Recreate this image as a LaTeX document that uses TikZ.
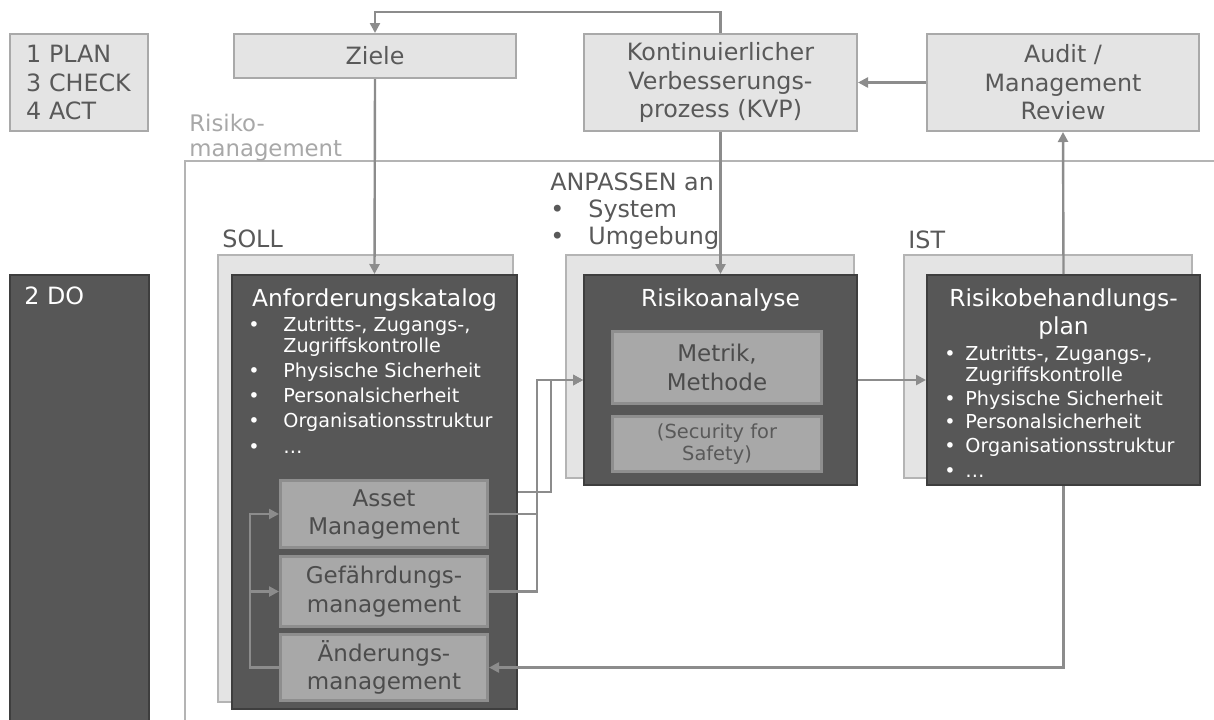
\documentclass[tikz,border=0pt]{standalone}
\usepackage{fontspec}
\setmainfont{DejaVu Sans}
\usetikzlibrary{arrows.meta,positioning}

\definecolor{hellgrau}{HTML}{E4E4E4}
\definecolor{randgrau}{HTML}{A9A9A9}
\definecolor{dunkelgrau}{HTML}{575757}
\definecolor{dunkelrand}{HTML}{3E3E3E}
\definecolor{mittelgrau}{HTML}{A8A8A8}
\definecolor{mittelrand}{HTML}{8E8E8E}
\definecolor{textgrau}{HTML}{595959}
\definecolor{liniengrau}{HTML}{8C8C8C}
\definecolor{rahmengrau}{HTML}{B4B4B4}

\newcommand{\grosstext}{\fontsize{11.9}{14.3}\selectfont}
\newcommand{\titeltext}{\fontsize{11.7}{14}\selectfont}
\newcommand{\listentext}{\fontsize{9.6}{10.6}\selectfont}
\newcommand{\punkt}[1]{\makebox[#1][l]{\textbullet}}

\begin{document}
\begin{tikzpicture}[x=0.5pt, y=-0.5pt,
	hellbox/.style={draw=randgrau, fill=hellgrau, line width=1pt, inner sep=0pt,
		anchor=north west, text=textgrau, align=center, font=\grosstext},
	hinterbox/.style={draw=rahmengrau, fill=hellgrau, line width=1pt, inner sep=0pt,
		anchor=north west},
	dunkelbox/.style={draw=dunkelrand, fill=dunkelgrau, line width=1pt, inner sep=0pt,
		anchor=north west},
	mittelbox/.style={draw=mittelrand, fill=mittelgrau, line width=1.5pt, inner sep=0pt,
		anchor=north west, text=textgrau!85!black, align=center},
	titel/.style={text=white, font=\titeltext, align=center, inner sep=0pt, anchor=north},
	liste/.style={text=white, font=\listentext, align=left, inner sep=0pt, anchor=north west},
	beschriftung/.style={text=textgrau, font=\grosstext, align=left, inner sep=0pt, anchor=west},
	verbinder/.style={draw=liniengrau, line width=1.2pt},
	pfeil/.style={verbinder, -{Triangle[length=5pt,width=5pt]}}]

	\useasboundingbox (0,0) rectangle (1214,719);
	\clip (0,0) rectangle (1214,719);
	\fill[white] (0,0) rectangle (1214,719);

	% obere Reihe
	\node[hellbox, text width=53pt, inner xsep=8pt, minimum height=48.5pt, align=left]
		(pdca) at (9,33) {1 PLAN\\3 CHECK\\4 ACT};
	\node[hellbox, minimum width=141pt, minimum height=22pt] (ziele) at (233,33) {Ziele};
	\node[hellbox, minimum width=136.5pt, minimum height=48.5pt] (kvp) at (583,33)
		{Kontinuierlicher\\Verbesserungs-\\prozess (KVP)};
	\node[hellbox, minimum width=136pt, minimum height=48.5pt] (audit) at (926,33)
		{Audit /\\Management\\Review};

	% Rahmen Risikomanagement
	\draw[draw=rahmengrau, line width=1pt] (185,725) -- (185,161) -- (1220,161);
	\node[beschriftung, text=mittelgrau, font=\fontsize{11.4}{12.5}\selectfont]
		(rm) at (189,137.5) {Risiko-\\management};

	% Beschriftungen
	\node[beschriftung, font=\fontsize{11.9}{13.5}\selectfont] (anpassen) at (550,211)
		{ANPASSEN an\\\punkt{19pt}System\\\punkt{19pt}Umgebung};
	\node[beschriftung] (soll) at (222,239) {SOLL};
	\node[beschriftung] (ist) at (908,240) {IST};

	% Hintergrundkaesten
	\node[hinterbox, minimum width=147.5pt, minimum height=223.5pt] (sollbox) at (217,254) {};
	\node[hinterbox, minimum width=144pt, minimum height=111.5pt] (rabox) at (565,254) {};
	\node[hinterbox, minimum width=144pt, minimum height=111.5pt] (istbox) at (903,254) {};

	% DO
	\node[dunkelbox, minimum width=69.5pt, minimum height=226pt] (do) at (9,274) {};
	\node[beschriftung, text=white] (dotext) at (24,296) {2 DO};

	% Anforderungskatalog
	\node[dunkelbox, minimum width=142.5pt, minimum height=217pt] (anf) at (231,274) {};
	\node[titel] (anftitel) at ([yshift=-7pt]anf.north) {Anforderungskatalog};
	\node[liste] (anfliste) at (248,316) {%
		\punkt{17.5pt}Zutritts-, Zugangs-,\\
		\hspace*{17.5pt}Zugriffskontrolle\\[2pt]
		\punkt{17.5pt}Physische Sicherheit\\[2pt]
		\punkt{17.5pt}Personalsicherheit\\[2pt]
		\punkt{17.5pt}Organisationsstruktur\\[2pt]
		\punkt{17.5pt}\ldots};
	\node[mittelbox, minimum width=103.5pt, minimum height=33.5pt,
		font=\fontsize{11.5}{14}\selectfont] (asset) at (279,479) {Asset\\Management};
	\node[mittelbox, minimum width=103.5pt, minimum height=35pt,
		font=\fontsize{11.5}{14.5}\selectfont] (gef) at (279,555) {Gefährdungs-\\management};
	\node[mittelbox, minimum width=103.5pt, minimum height=33pt,
		font=\fontsize{11.5}{14}\selectfont] (aend) at (279,633) {Änderungs-\\management};

	% Risikoanalyse
	\node[dunkelbox, minimum width=136.5pt, minimum height=105pt] (ra) at (583,274) {};
	\node[titel] (ratitel) at ([yshift=-7pt]ra.north) {Risikoanalyse};
	\node[mittelbox, minimum width=104.5pt, minimum height=36pt,
		font=\fontsize{11.5}{14.5}\selectfont] (metrik) at (611,330) {Metrik,\\Methode};
	\node[mittelbox, minimum width=104.5pt, minimum height=27.5pt, text=textgrau,
		font=\fontsize{9.7}{11}\selectfont] (sec) at (611,415) {(Security for\\Safety)};

	% Risikobehandlungsplan
	\node[dunkelbox, minimum width=136.5pt, minimum height=105pt] (rb) at (926,274) {};
	\node[titel] (rbtitel) at ([yshift=-7pt]rb.north) {Risikobehandlungs-\\plan};
	\node[liste] (rbliste) at (944,345) {%
		\punkt{10.5pt}Zutritts-, Zugangs-,\\
		\hspace*{10.5pt}Zugriffskontrolle\\[1.5pt]
		\punkt{10.5pt}Physische Sicherheit\\[1pt]
		\punkt{10.5pt}Personalsicherheit\\[1.5pt]
		\punkt{10.5pt}Organisationsstruktur\\[1.5pt]
		\punkt{10.5pt}\ldots};

	% Verbindungen oben
	\draw[pfeil] (kvp.north) -- ++(0,-21) -| (ziele.north);
	\draw[pfeil] (audit.west) -- (kvp.east);
	\draw[pfeil] (ziele.south) -- (anf.north);
	\draw[pfeil] (kvp.south) -- (ra.north);
	\draw[pfeil] (rb.north) -- (audit.south);

	% Verbindungen unten
	\draw[pfeil] (ra.east) -- (rb.west);
	\draw[pfeil] (anf.east) -- ++(33,0) |- (ra.west);
	\draw[pfeil] (asset.east) -- ++(48,0) |- (ra.west);
	\draw[pfeil] (gef.east) -- ++(48,0) |- (ra.west);
	\draw[pfeil] (aend.west) -- ++(-29,0) |- (asset.west);
	\draw[pfeil] (aend.west) -- ++(-29,0) |- (gef.west);
	\draw[pfeil] (rb.south) |- (aend.east);
\end{tikzpicture}
\end{document}
